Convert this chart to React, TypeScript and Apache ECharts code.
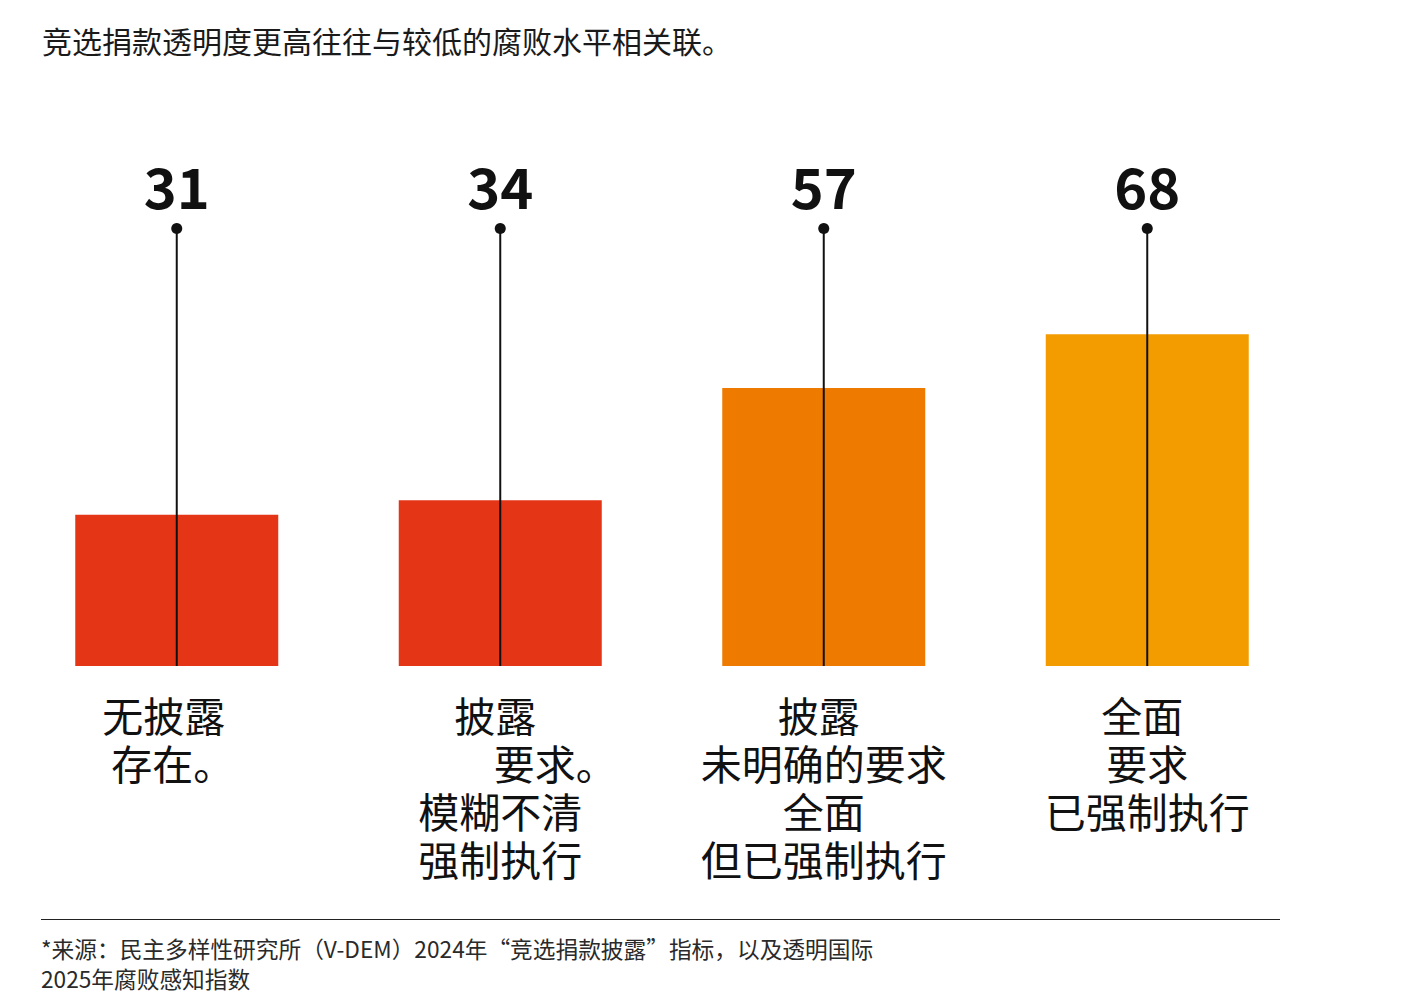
import React, { useEffect, useRef } from "react";
import * as echarts from "echarts";

// Category labels (line breaks as drawn under each bar)
const categories = [
  "无披露\n存在。",
  "披露\n要求。\n模糊不清\n强制执行",
  "披露\n未明确的要求\n全面\n但已强制执行",
  "全面\n要求\n已强制执行",
];
// Corruption perceptions scores per disclosure group
const scores = [31, 34, 57, 68];
const barColors = ["#E43517", "#E43517", "#EE7A00", "#F39C00"];

const titleText = "竞选捐款透明度更高往往与较低的腐败水平相关联。";
const sourceLines = [
  "*来源：民主多样性研究所（V-DEM）2024年“竞选捐款披露”指标，以及透明国际",
  "2025年腐败感知指数",
];

// Horizontal nudge (px) for each line of each category label
const lineShifts = [
  [-13, -4],
  [-5, 55, 0, 0],
  [-5, 0, 0, 0],
  [-5, 0, 0],
];

const CJK = '"Noto Sans CJK SC", "Noto Sans", sans-serif';
const STEM_TOP = 89.7; // value at which each stem ends with its dot
const INK = "#111111";

export default function App() {
  const ref = useRef<HTMLDivElement>(null);

  useEffect(() => {
    if (!ref.current) return;
    const chart = echarts.init(ref.current, null, { renderer: "svg" });

    const rich: Record<string, any> = {};
    lineShifts.forEach((arr, i) =>
      arr.forEach((d, j) => {
        rich[`r${i}_${j}`] = {
          fontSize: 41,
          fontFamily: CJK,
          color: INK,
          lineHeight: 48,
          align: "center",
          padding: d >= 0 ? [0, 0, 0, 2 * d] : [0, -2 * d, 0, 0],
        };
      })
    );

    chart.setOption({
      animation: false,
      backgroundColor: "#ffffff",
      grid: { left: 15, width: 1294, top: 227, height: 439 },
      xAxis: {
        type: "category",
        data: categories,
        axisLine: { show: false },
        axisTick: { show: false },
        splitLine: { show: false },
        axisLabel: {
          interval: 0,
          margin: 24,
          verticalAlign: "top",
          formatter: (value: string, index: number) =>
            value
              .split("\n")
              .map((t, j) => `{r${index}_${j}|${t}}`)
              .join("\n"),
          rich,
        },
      },
      yAxis: {
        type: "value",
        min: 0,
        max: 90,
        show: false,
        splitLine: { show: false },
      },
      series: [
        {
          type: "bar",
          barWidth: 203,
          data: scores.map((v, i) => ({
            value: v,
            itemStyle: { color: barColors[i] },
          })),
          z: 2,
        },
        {
          type: "custom",
          z: 5,
          data: scores.map((v, i) => [i, v]),
          encode: { x: 0, y: 1 },
          renderItem: (params: any, api: any) => {
            const i = api.value(0);
            const v = api.value(1);
            const base = api.coord([i, 0]);
            const top = api.coord([i, STEM_TOP]);
            return {
              type: "group",
              children: [
                {
                  type: "line",
                  shape: { x1: base[0], y1: base[1], x2: top[0], y2: top[1] },
                  style: { stroke: INK, lineWidth: 2 },
                },
                {
                  type: "circle",
                  shape: { cx: top[0], cy: top[1], r: 5.5 },
                  style: { fill: INK },
                },
                {
                  type: "text",
                  x: top[0],
                  y: top[1] - 44,
                  style: {
                    text: String(v),
                    fontSize: 56,
                    fontWeight: "bold",
                    fontFamily: CJK,
                    fill: INK,
                    align: "center",
                    verticalAlign: "middle",
                  },
                },
              ],
            };
          },
        },
      ],
      graphic: [
        {
          type: "text",
          x: 42,
          y: 40,
          style: {
            text: titleText,
            fontSize: 30,
            fontFamily: CJK,
            fill: "#1a1a1a",
            verticalAlign: "middle",
          },
        },
        {
          type: "line",
          shape: { x1: 41, y1: 919.5, x2: 1280, y2: 919.5 },
          style: { stroke: "#222222", lineWidth: 1.2 },
        },
        {
          type: "text",
          x: 41,
          y: 948,
          style: {
            text: sourceLines[0],
            fontSize: 22.7,
            fontFamily: CJK,
            fill: "#2a2a2a",
            verticalAlign: "middle",
          },
        },
        {
          type: "text",
          x: 41,
          y: 978,
          style: {
            text: sourceLines[1],
            fontSize: 22.7,
            fontFamily: CJK,
            fill: "#2a2a2a",
            verticalAlign: "middle",
          },
        },
      ],
    });

    return () => chart.dispose();
  }, []);

  return (
    <div
      ref={ref}
      style={{ position: "absolute", left: 0, top: 0, width: 1407, height: 1007 }}
    />
  );
}
